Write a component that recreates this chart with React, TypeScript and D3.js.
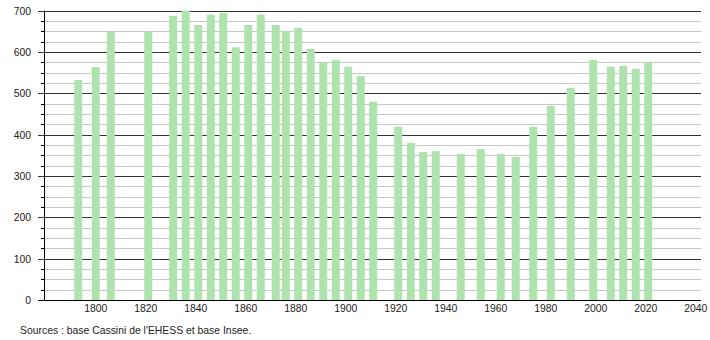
import React from "react";
import * as d3 from "d3";

const years = [1793, 1800, 1806, 1821, 1831, 1836, 1841, 1846, 1851, 1856, 1861, 1866, 1872, 1876, 1881, 1886, 1891, 1896, 1901, 1906, 1911, 1921, 1926, 1931, 1936, 1946, 1954, 1962, 1968, 1975, 1982, 1990, 1999, 2006, 2011, 2016, 2021];
const population = [532, 563, 649, 649, 687, 700, 665, 690, 694, 611, 665, 690, 665, 651, 658, 607, 575, 580, 564, 542, 479, 419, 380, 358, 360, 353, 365, 353, 346, 419, 469, 513, 581, 564, 566, 559, 573];
const yTicks = [0, 100, 200, 300, 400, 500, 600, 700];
const xTicks = [1800, 1820, 1840, 1860, 1880, 1900, 1920, 1940, 1960, 1980, 2000, 2020, 2040];
const source = "Sources : base Cassini de l'EHESS et base Insee.";

export default function App() {
  const W = 710, H = 340;
  const left = 44, right = 701, top = 10.5, bottom = 300;
  const x = d3.scaleLinear().domain([1779.3, 2042.1]).range([left, right]);
  const y = d3.scaleLinear().domain([0, 700]).range([bottom, top]);
  const minor = d3.range(0, 701, 25).filter((v) => v % 100 !== 0);
  const bw = 8;
  const font = "'Liberation Sans', Arial, sans-serif";
  return (
    <svg width={W} height={H} style={{ position: "absolute", left: 0, top: 0, background: "#fff" }} fontFamily={font}>
      {minor.map((v) => (
        <g key={"m" + v}>
          <line x1={left} x2={right} y1={Math.round(y(v)) + 0.5} y2={Math.round(y(v)) + 0.5} stroke="#c8c8c8" strokeWidth={1} />
          <line x1={left - 3} x2={left} y1={Math.round(y(v)) + 0.5} y2={Math.round(y(v)) + 0.5} stroke="#000" strokeWidth={1} />
        </g>
      ))}
      {yTicks.map((v) => (
        <g key={"M" + v}>
          <line x1={left - 6} x2={right} y1={Math.round(y(v)) + 0.5} y2={Math.round(y(v)) + 0.5} stroke={v === 0 ? "#000" : "#333"} strokeWidth={1} />
          <text x={31} y={y(v) + 4} fontSize={10.4} textAnchor="end" fill="#222">{v}</text>
        </g>
      ))}
      {years.map((yr, i) => (
        <rect key={yr} x={x(yr) - bw / 2} y={y(population[i])} width={bw} height={bottom - y(population[i])} fill="#aee3ae" />
      ))}
      <line x1={left + 0.5} x2={left + 0.5} y1={top} y2={bottom} stroke="#000" strokeWidth={1} />
      {xTicks.map((t) => (
        <text key={t} x={x(t)} y={312} fontSize={10.4} textAnchor="middle" fill="#222">{t}</text>
      ))}
      <text x={20} y={334} fontSize={10.4} fill="#222">{source}</text>
    </svg>
  );
}
